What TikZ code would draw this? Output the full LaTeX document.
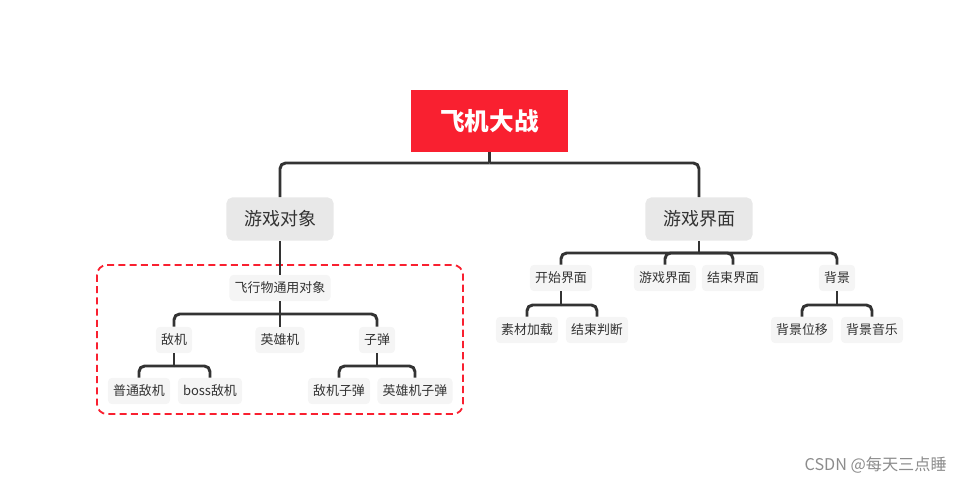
\documentclass[tikz,border=0pt]{standalone}
\usepackage{fontspec}
\setmainfont{Noto Sans CJK SC}
\usetikzlibrary{positioning,calc}
\definecolor{mapred}{RGB}{249,32,48}
\definecolor{mapgray}{RGB}{232,232,232}
\definecolor{leafgray}{RGB}{245,245,245}
\definecolor{linkgray}{RGB}{51,51,51}

\begin{document}
\begin{tikzpicture}[x=0.025cm,y=-0.025cm,
        rootbox/.style={fill=mapred,text=white,font=\fontsize{17.5}{20}\selectfont\bfseries,
            minimum width=3.925cm,minimum height=1.55cm,inner sep=0pt},
        topicbox/.style={fill=mapgray,text=linkgray,font=\fontsize{12.8}{15}\selectfont,
            rounded corners=4pt,minimum width=2.675cm,minimum height=1.075cm,inner sep=0pt},
        leafbox/.style={fill=leafgray,text=linkgray,font=\fontsize{9.2}{11}\selectfont,
            rounded corners=3pt,minimum height=0.66cm,inner xsep=0.13cm,inner ysep=0pt},
        link/.style={draw=linkgray,line width=2.1pt,rounded corners=4pt},
        groupframe/.style={draw=mapred,line width=1.3pt,dash pattern=on 5pt off 3pt,rounded corners=7pt}]
        % fix the page size
        \useasboundingbox (0,0) rectangle (963,484);
        % group frame round the flying objects
        \draw[groupframe] (97,265) rectangle (463,414);
        % draw nodes
        \node[rootbox] (root) at (489.5,121) {飞机大战};
        \node[topicbox] (objs) at (280,219) {游戏对象};
        \node[topicbox] (ui) at (699,219) {游戏界面};
        \node[leafbox,minimum width=2.525cm] (flying) at (280,288) {飞行物通用对象};
        \node[leafbox] (enemy) at (174,340) {敌机};
        \node[leafbox] (hero) at (280,340) {英雄机};
        \node[leafbox] (bullet) at (377,340) {子弹};
        \node[leafbox] (plain) at (139,391) {普通敌机};
        \node[leafbox] (boss) at (210,391) {boss敌机};
        \node[leafbox] (ebullet) at (339,391) {敌机子弹};
        \node[leafbox] (hbullet) at (415,391) {英雄机子弹};
        \node[leafbox] (start) at (561,278) {开始界面};
        \node[leafbox] (gameui) at (665,278) {游戏界面};
        \node[leafbox] (endui) at (733,278) {结束界面};
        \node[leafbox] (bg) at (837,278) {背景};
        \node[leafbox] (load) at (527,330) {素材加载};
        \node[leafbox] (judge) at (597,330) {结束判断};
        \node[leafbox] (bgmove) at (802,330) {背景位移};
        \node[leafbox] (bgmusic) at (872,330) {背景音乐};
        % junctions of the branches
        \coordinate (rootbar) at (489.5,163);
        \coordinate (flybar) at (280,314);
        \coordinate (enemybar) at (174,366);
        \coordinate (bulletbar) at (377,366);
        \coordinate (uibar) at (699,253);
        \coordinate (startbar) at (561,305);
        \coordinate (bgbar) at (837,305);
        % draw branches
        \draw[link] (root) -- (rootbar);
        \foreach \t in {objs,ui} \draw[link] (rootbar) -| (\t);
        \draw[link] (objs) -- (flying);
        \draw[link] (flying) -- (flybar);
        \foreach \t in {enemy,hero,bullet} \draw[link] (flybar) -| (\t);
        \draw[link] (enemy) -- (enemybar);
        \foreach \t in {plain,boss} \draw[link] (enemybar) -| (\t);
        \draw[link] (bullet) -- (bulletbar);
        \foreach \t in {ebullet,hbullet} \draw[link] (bulletbar) -| (\t);
        \draw[link] (ui) -- (uibar);
        \foreach \t in {start,gameui,endui,bg} \draw[link] (uibar) -| (\t);
        \draw[link] (start) -- (startbar);
        \foreach \t in {load,judge} \draw[link] (startbar) -| (\t);
        \draw[link] (bg) -- (bgbar);
        \foreach \t in {bgmove,bgmusic} \draw[link] (bgbar) -| (\t);
        % watermark
        \node[anchor=east,text=black!45,font=\fontsize{11.5}{13}\selectfont,inner sep=0pt] (mark) at (947,465) {CSDN @每天三点睡};
\end{tikzpicture}
\end{document}
